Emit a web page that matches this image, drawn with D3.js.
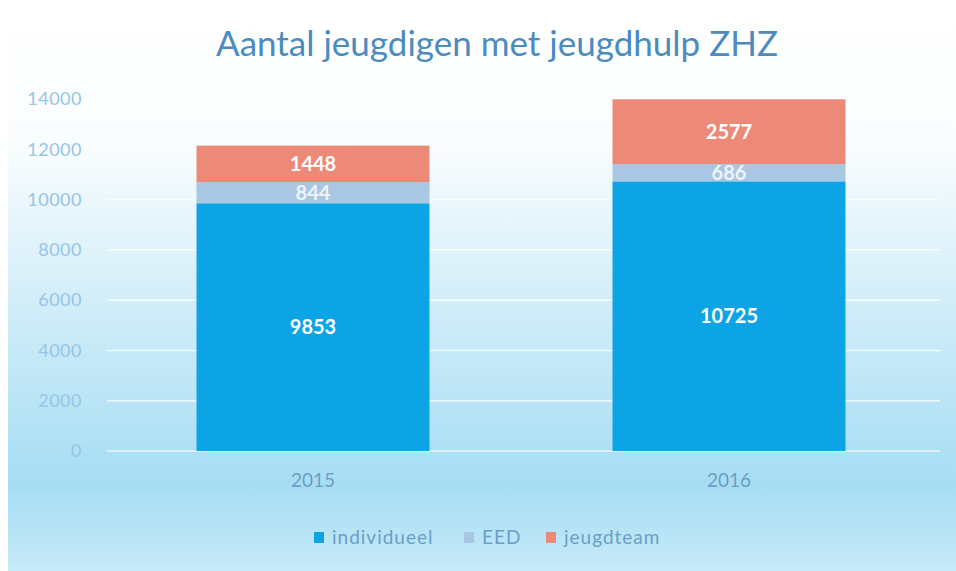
<!DOCTYPE html>
<html><head><meta charset="utf-8">
<script src="https://cdn.jsdelivr.net/npm/d3@7"></script>
<style>html,body{margin:0;padding:0;background:#fff;}svg{display:block;}</style>
</head><body>
<svg id="chart" width="956" height="571"></svg>
<script>
const categories = ["2015", "2016"];
const seriesNames = ["individueel", "EED", "jeugdteam"];
const individueel = [9853, 10725];
const eed = [844, 686];
const jeugdteam = [1448, 2577];
const yTicks = [0, 2000, 4000, 6000, 8000, 10000, 12000, 14000];
const colors = ["#0ca4e5", "#a9c6e2", "#ec8a77"];

const svg = d3.select("#chart");
const W = 956, H = 571;
const FONT = "Lato, 'Open Sans', sans-serif";
const defs = svg.append("defs");
const grad = defs.append("linearGradient").attr("id", "bg").attr("x1", 0).attr("y1", 0).attr("x2", 0).attr("y2", 1);
grad.append("stop").attr("offset", "0%").attr("stop-color", "#ffffff");
grad.append("stop").attr("offset", "25%").attr("stop-color", "#fafdfe");
grad.append("stop").attr("offset", "50%").attr("stop-color", "#d6eff9");
grad.append("stop").attr("offset", "85%").attr("stop-color", "#a6ddf4");
grad.append("stop").attr("offset", "100%").attr("stop-color", "#c6eaf8");
svg.append("rect").attr("x", 8).attr("y", 0).attr("width", W - 8).attr("height", H).attr("fill", "url(#bg)");

const x = d3.scaleBand().domain(categories).range([105, 937]).paddingInner(0.44).paddingOuter(0.22);
const y = d3.scaleLinear().domain([0, 14000]).range([451, 99]);

// gridlines
svg.append("g").selectAll("line").data(yTicks).join("line")
  .attr("x1", 107).attr("x2", 940)
  .attr("y1", d => y(d)).attr("y2", d => y(d))
  .attr("stroke", "#ffffff").attr("stroke-opacity", 0.75).attr("stroke-width", 1.5);

// y axis labels
const yAxis = d3.axisLeft(y).tickValues(yTicks).tickSize(0).tickPadding(0).tickFormat(d3.format("d"));
const gy = svg.append("g").attr("transform", "translate(82,0)").call(yAxis);
gy.select(".domain").remove();
gy.selectAll("text").attr("fill", "#95c5e5").style("font-family", FONT).style("font-size", "18px").style("letter-spacing", "0.5px");

// x axis labels
const xAxis = d3.axisBottom(x).tickSize(0).tickPadding(0);
const gx = svg.append("g").attr("transform", "translate(0,473)").call(xAxis);
gx.select(".domain").remove();
gx.selectAll("text").attr("fill", "#6c9dc2").style("font-family", FONT).style("font-size", "19px");

// stack
const rows = categories.map((c, i) => ({cat: c, individueel: individueel[i], EED: eed[i], jeugdteam: jeugdteam[i]}));
const stacked = d3.stack().keys(seriesNames)(rows);

const layers = svg.append("g").selectAll("g").data(stacked).join("g").attr("fill", (d, i) => colors[i]);
layers.selectAll("rect").data(d => d).join("rect")
  .attr("x", d => x(d.data.cat))
  .attr("width", x.bandwidth())
  .attr("y", d => y(d[1]))
  .attr("height", d => y(d[0]) - y(d[1]));

// value labels
const lbl = svg.append("g");
stacked.forEach((layer, li) => {
  lbl.selectAll(null).data(layer).join("text")
    .attr("x", d => x(d.data.cat) + x.bandwidth() / 2)
    .attr("y", d => (y(d[0]) + y(d[1])) / 2)
    .attr("dy", "0.35em")
    .attr("text-anchor", "middle")
    .attr("fill", li === 1 ? "#eef4fb" : "#ffffff")
    .style("font-family", FONT)
    .style("font-weight", "bold")
    .style("font-size", "20px")
    .text(d => d[1] - d[0]);
});

// title
svg.append("text").attr("x", 497).attr("y", 56).attr("text-anchor", "middle")
  .attr("fill", "#4b8bc0")
  .style("font-family", FONT)
  .style("font-size", "35px")
  .text("Aantal jeugdigen met jeugdhulp ZHZ");

// legend
const legend = svg.append("g");
const legendX = [314, 464, 546];
seriesNames.forEach((name, i) => {
  const g = legend.append("g").attr("transform", `translate(${legendX[i]},537)`);
  g.append("rect").attr("x", 0).attr("y", -5).attr("width", 10).attr("height", 11).attr("fill", colors[i]);
  g.append("text").attr("x", 18).attr("y", 0).attr("dy", "0.35em")
    .attr("fill", "#6b9fc6")
    .style("font-family", FONT)
    .style("font-size", "19px")
    .style("letter-spacing", "1px")
    .text(name);
});
</script>
</body></html>
